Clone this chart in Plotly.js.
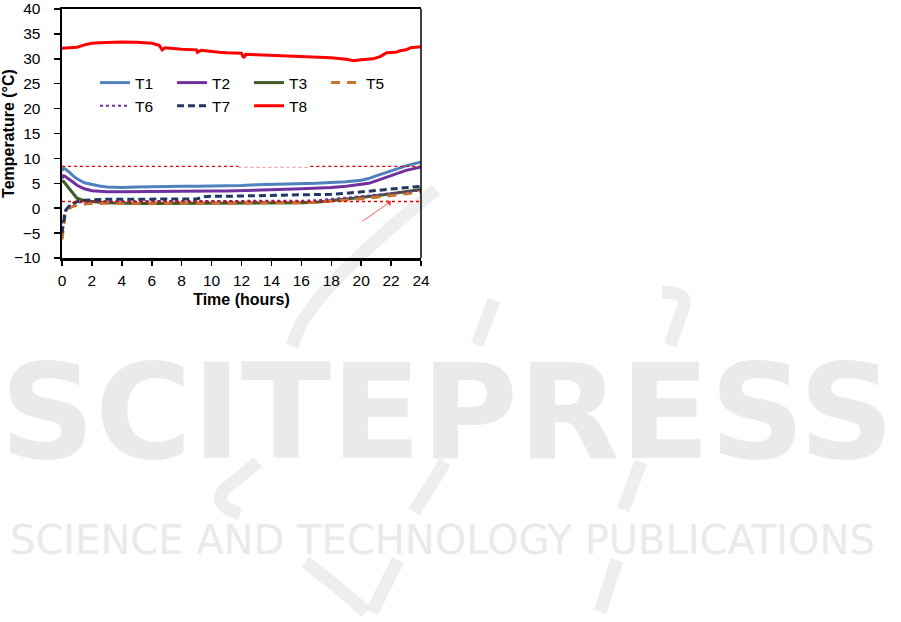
<!DOCTYPE html>
<html>
<head>
<meta charset="utf-8">
<script src="https://cdn.plot.ly/plotly-3.0.1.min.js"></script>
<style>
html,body{margin:0;padding:0;background:#fff;}
#chart{width:901px;height:622px;}
</style>
</head>
<body>
<div id="chart"></div>
<script>
// Time axis (hours) shared by T1..T7
const time = [0,0.1,0.2,0.3,0.5,0.75,1,1.5,2,2.5,3,4,5,6,7,8,9,9.5,10,11,12,13,14,15,16,17,18,19,20,20.5,21,22,23,24];
const T1 = [7.5,8.0,7.9,7.6,7.2,6.5,5.9,5.1,4.7,4.45,4.25,4.15,4.25,4.35,4.4,4.4,4.4,4.4,4.4,4.4,4.55,4.7,4.75,4.8,4.9,5.0,5.15,5.3,5.6,5.95,6.5,7.5,8.5,9.3];
const T2 = [6.0,6.5,6.4,6.2,5.8,5.2,4.6,3.9,3.5,3.35,3.3,3.3,3.35,3.4,3.4,3.45,3.45,3.45,3.45,3.45,3.5,3.6,3.7,3.8,3.9,4.0,4.15,4.4,4.7,5.0,5.5,6.6,7.6,8.3];
const T3 = [5.5,5.4,5.0,4.6,3.8,2.8,2.0,1.5,1.3,1.2,1.1,1.0,0.95,0.95,0.95,0.95,0.95,0.95,0.95,1.0,1.0,1.0,1.0,1.05,1.1,1.2,1.5,1.8,2.1,2.3,2.5,2.9,3.3,3.75];
const T5 = [-6.3,-3.5,-1.5,-0.6,0.0,0.4,0.6,0.85,0.95,1.0,1.0,1.0,1.0,1.0,1.0,1.05,1.05,1.05,1.05,1.05,1.05,1.05,1.1,1.1,1.1,1.2,1.4,1.7,1.9,2.0,2.2,2.5,2.9,3.3];
const T6 = [-3.0,-1.5,-0.5,0.0,0.5,0.9,1.1,1.3,1.4,1.4,1.4,1.4,1.4,1.4,1.4,1.4,1.4,1.4,1.4,1.4,1.45,1.45,1.45,1.5,1.5,1.6,1.8,2.1,2.4,2.55,2.7,3.0,3.3,3.6];
const T7 = [-5.0,-2.5,-1.0,-0.2,0.5,1.0,1.3,1.6,1.7,1.8,1.8,1.8,1.8,1.8,1.8,1.8,1.85,2.3,2.4,2.4,2.45,2.5,2.5,2.55,2.6,2.7,2.8,3.0,3.3,3.45,3.6,3.9,4.2,4.4];
// T8 has its own time stamps (small notches)
const time8 = [0,0.5,1,1.5,2,2.5,3,4,5,6,6.5,6.7,6.9,7.5,8,9,9.05,9.3,10,10.5,11,12,12.15,12.3,13,14,15,16,17,18,19,19.5,20,20.8,21.3,21.7,22.3,22.6,23,23.3,24];
const T8 = [32.1,32.2,32.3,32.8,33.1,33.2,33.3,33.35,33.3,33.1,32.7,31.8,32.2,32.0,31.9,31.8,31.3,31.7,31.4,31.3,31.2,31.1,30.2,30.9,30.8,30.7,30.5,30.4,30.3,30.2,29.9,29.6,29.8,30.0,30.5,31.2,31.3,31.6,31.8,32.2,32.4];

const seriesNames = ['T1','T2','T3','T5','T6','T7','T8'];
// reference dotted lines (°C) and the arrow (tail x, tail y, head x, head y)
const refLevels = [8.4, 1.35];
const refFaint = [11.8, 16.6, 8.2];
const arrowPts = [20.0, -2.8, 22.0, 1.4];
const yTicks = [-10,-5,0,5,10,15,20,25,30,35,40];
const xTicks = [0,2,4,6,8,10,12,14,16,18,20,22,24];
const watermark = ['SCITEPRESS', 'SCIENCE AND TECHNOLOGY PUBLICATIONS'];

const font = 'Liberation Sans, Arial, sans-serif';
function tr(name, x, y, color, dash, width){
  return {x:x, y:y, name:name, type:'scatter', mode:'lines',
    line:{color:color, width:width, dash:dash}, hoverinfo:'skip'};
}
const data = [
  tr(seriesNames[0], time, T1, '#4F81BD', 'solid', 3),
  tr(seriesNames[1], time, T2, '#7030A0', 'solid', 3),
  tr(seriesNames[2], time, T3, '#3E5B26', 'solid', 3),
  tr(seriesNames[3], time, T5, '#C8742F', '9px,7px', 3),
  tr(seriesNames[4], time, T6, '#7030A0', 'dot', 2),
  tr(seriesNames[5], time, T7, '#1F3864', '7px,4px', 3),
  tr(seriesNames[6], time8, T8, '#FF0000', 'solid', 3)
];

// watermark logo strokes (page pixels -> paper coords)
const L = 62, T = 9, W = 359, H = 249;
function pp(pts){
  let s = '';
  pts.forEach(function(p){
    if(typeof p === 'string'){ s += p + ' '; }
    else { s += ((p[0]-L)/W).toFixed(4) + ',' + ((T+H-p[1])/H).toFixed(4) + ' '; }
  });
  return s.trim();
}
const wmStroke = {color:'#EEEEEE', width:13};
const logoPaths = [
  pp(['M',[436,190],'Q',[330,275],[300,325],'L',[292,346]]),
  pp(['M',[258,462],'L',[224,490],'Q',[212,505],[240,514]]),
  pp(['M',[494,300],'L',[477,345]]),
  pp(['M',[445,462],'L',[414,512]]),
  pp(['M',[398,560],'L',[372,612]]),
  pp(['M',[662,292],'Q',[688,292],[684,306],'L',[670,345]]),
  pp(['M',[641,462],'L',[623,510]]),
  pp(['M',[617,560],'L',[600,612]]),
  pp(['M',[305,562],'Q',[340,588],[366,612]])
];

const shapes = logoPaths.map(function(p){
  return {type:'path', xref:'paper', yref:'paper', path:p, layer:'below', line:wmStroke};
}).concat([
  {type:'line', xref:'x', yref:'y', x0:0, x1:refFaint[0], y0:refLevels[0], y1:refLevels[0], line:{color:'#E00000', width:1.3, dash:'dot'}},
  {type:'line', xref:'x', yref:'y', x0:refFaint[1], x1:24, y0:refLevels[0], y1:refLevels[0], line:{color:'#E00000', width:1.3, dash:'dot'}},
  {type:'line', xref:'x', yref:'y', x0:refFaint[0], x1:refFaint[1], y0:refFaint[2], y1:refFaint[2], line:{color:'#F2A0A0', width:1.3, dash:'dot'}},
  {type:'line', xref:'x', yref:'y', x0:0, x1:24, y0:refLevels[1], y1:refLevels[1], line:{color:'#E00000', width:1.3, dash:'dot'}},
  {type:'line', xref:'paper', yref:'paper', x0:1, x1:1, y0:0, y1:1, line:{color:'#000', width:1.5}}
]);

const annotations = [
  {text:watermark[0], xref:'paper', yref:'paper', x:(447-L)/W, y:(T+H-412)/H, xanchor:'center', yanchor:'middle', showarrow:false,
   font:{family:'DejaVu Sans', size:132, color:'#EAEAEA', weight:700}},
  {text:watermark[1], xref:'paper', yref:'paper', x:(442-L)/W, y:(T+H-540)/H, xanchor:'center', yanchor:'middle', showarrow:false,
   font:{family:'DejaVu Sans', size:40, color:'#EAEAEA'}},
  {x:arrowPts[2], y:arrowPts[3], ax:arrowPts[0], ay:arrowPts[1], xref:'x', yref:'y', axref:'x', ayref:'y',
   showarrow:true, arrowhead:1, arrowsize:1.6, arrowwidth:0.8, arrowcolor:'#FF3030', text:''}
];

const layout = {
  width:901, height:622,
  margin:{l:62, r:480, t:9, b:364, pad:0},
  paper_bgcolor:'#fff', plot_bgcolor:'rgba(0,0,0,0)',
  showlegend:true,
  legend:{orientation:'h', x:0.092, y:0.771, xanchor:'left', yanchor:'top',
    entrywidth:32, font:{family:font, size:15.5, color:'#000'}, bgcolor:'rgba(0,0,0,0)', traceorder:'normal'},
  xaxis:{range:[0,24], tickvals:xTicks, ticks:'outside', ticklen:5, tickwidth:1.5, tickcolor:'#000',
    showline:true, linewidth:2.5, linecolor:'#000', mirror:true, showgrid:false, zeroline:false,
    ticklabelstandoff:2,
    tickfont:{family:font, size:15.5, color:'#000'},
    title:{text:'Time (hours)', font:{family:font, size:16, color:'#000', weight:700}, standoff:6}},
  yaxis:{range:[-10,40], tickvals:yTicks, ticks:'outside', ticklen:6, tickwidth:1.5, tickcolor:'#000',
    showline:true, linewidth:2.5, linecolor:'#000', showgrid:false, zeroline:false,
    ticklabelstandoff:10,
    tickfont:{family:font, size:15.5, color:'#000'},
    title:{text:'Temperature (°C)', font:{family:font, size:16, color:'#000', weight:700}, standoff:1}},
  shapes:shapes,
  annotations:annotations
};
Plotly.newPlot('chart', data, layout, {staticPlot:true, displayModeBar:false});
</script>
</body>
</html>
